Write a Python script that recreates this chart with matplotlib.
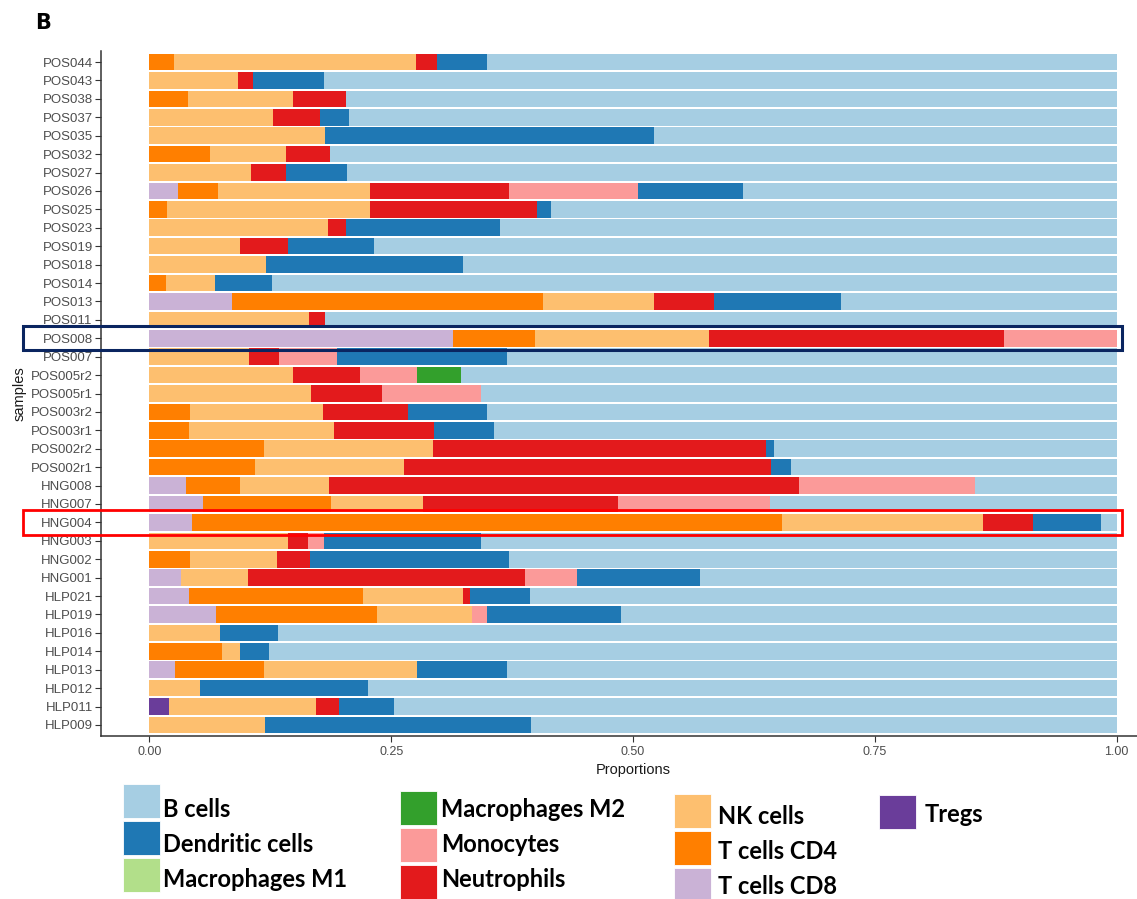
import numpy as np
import matplotlib.pyplot as plt
from matplotlib.patches import Rectangle
from matplotlib.transforms import blended_transform_factory

# samples, top to bottom as in the figure
samples = ["POS044", "POS043", "POS038", "POS037", "POS035", "POS032", "POS027", "POS026",
           "POS025", "POS023", "POS019", "POS018", "POS014", "POS013", "POS011", "POS008",
           "POS007", "POS005r2", "POS005r1", "POS003r2", "POS003r1", "POS002r2", "POS002r1",
           "HNG008", "HNG007", "HNG004", "HNG003", "HNG002", "HNG001",
           "HLP021", "HLP019", "HLP016", "HLP014", "HLP013", "HLP012", "HLP011", "HLP009"]

# proportions per cell type (same order as samples)
tregs = [0, 0, 0, 0, 0, 0, 0, 0, 0, 0, 0, 0, 0, 0, 0, 0, 0, 0, 0, 0, 0, 0, 0,
         0, 0, 0, 0, 0, 0, 0, 0, 0, 0, 0, 0, 0.020, 0]
cd8 = [0, 0, 0, 0, 0, 0, 0, 0.030, 0, 0, 0, 0, 0, 0.085, 0, 0.314, 0, 0, 0, 0, 0, 0, 0,
       0.038, 0.055, 0.044, 0, 0, 0.033, 0.041, 0.069, 0, 0, 0.027, 0, 0, 0]
cd4 = [0.025, 0, 0.040, 0, 0, 0.063, 0, 0.041, 0.018, 0, 0, 0, 0.017, 0.322, 0, 0.085, 0, 0, 0,
       0.042, 0.041, 0.118, 0.109, 0.056, 0.133, 0.610, 0, 0.042, 0, 0.180, 0.166, 0, 0.075,
       0.091, 0, 0, 0]
nk = [0.251, 0.092, 0.108, 0.128, 0.182, 0.078, 0.105, 0.157, 0.210, 0.185, 0.094, 0.121, 0.051,
      0.115, 0.165, 0.180, 0.103, 0.149, 0.167, 0.138, 0.150, 0.175, 0.154, 0.092, 0.095, 0.208,
      0.143, 0.090, 0.069, 0.103, 0.099, 0.073, 0.019, 0.159, 0.052, 0.152, 0.120]
neut = [0.021, 0.015, 0.055, 0.048, 0, 0.046, 0.036, 0.144, 0.173, 0.018, 0.049, 0, 0, 0.062,
        0.017, 0.305, 0.031, 0.069, 0.073, 0.087, 0.103, 0.345, 0.380, 0.486, 0.202, 0.052,
        0.021, 0.034, 0.286, 0.007, 0, 0, 0, 0, 0, 0.024, 0]
mono = [0, 0, 0, 0, 0, 0, 0, 0.133, 0, 0, 0, 0, 0, 0, 0, 0.116, 0.060, 0.059, 0.103, 0, 0, 0, 0,
        0.182, 0.157, 0, 0.017, 0, 0.054, 0, 0.015, 0, 0, 0, 0, 0, 0]
m2 = [0, 0, 0, 0, 0, 0, 0, 0, 0, 0, 0, 0, 0, 0, 0, 0, 0, 0.045, 0, 0, 0, 0, 0,
      0, 0, 0, 0, 0, 0, 0, 0, 0, 0, 0, 0, 0, 0]
m1 = [0] * 37
dc = [0.052, 0.074, 0, 0.030, 0.340, 0, 0.063, 0.109, 0.014, 0.160, 0.089, 0.203, 0.059, 0.131,
      0, 0, 0.176, 0, 0, 0.082, 0.062, 0.008, 0.020, 0, 0, 0.070, 0.162, 0.206, 0.127, 0.062,
      0.139, 0.060, 0.030, 0.093, 0.174, 0.057, 0.275]
bcells = [0.651, 0.819, 0.797, 0.794, 0.478, 0.813, 0.796, 0.386, 0.585, 0.637, 0.768, 0.676,
          0.873, 0.285, 0.818, 0, 0.630, 0.678, 0.657, 0.651, 0.644, 0.354, 0.337, 0.146, 0.358,
          0.016, 0.657, 0.628, 0.431, 0.607, 0.512, 0.867, 0.876, 0.630, 0.774, 0.747, 0.605]

legend_labels = ["B cells", "Dendritic cells", "Macrophages M1", "Macrophages M2", "Monocytes",
                 "Neutrophils", "NK cells", "T cells CD4", "T cells CD8", "Tregs"]
colors = ["#A6CEE3", "#1F78B4", "#B2DF8A", "#33A02C", "#FB9A99",
          "#E31A1C", "#FDBF6F", "#FF7F00", "#CAB2D6", "#6A3D9A"]
series = [bcells, dc, m1, m2, mono, neut, nk, cd4, cd8, tregs]

W, H = 1137, 899
fig = plt.figure(figsize=(W / 100, H / 100), dpi=100)
ax = fig.add_axes([101 / W, 1 - 736 / H, (1165 - 101) / W, (736 - 51) / H])

n = len(samples)
ypos = np.arange(n)[::-1]

# stack from Tregs (left) to B cells (right)
left = np.zeros(n)
for vals, col in zip(series[::-1], colors[::-1]):
    vals = np.array(vals)
    ax.barh(ypos, vals, left=left, height=0.9, color=col, edgecolor='none')
    left += vals

ax.set_xlim(-0.05, 1.05)
ax.set_ylim(-0.6, n - 0.4)
ax.set_xticks([0, 0.25, 0.5, 0.75, 1.0])
ax.set_xticklabels(["0.00", "0.25", "0.50", "0.75", "1.00"])
ax.set_yticks(ypos)
ax.set_yticklabels(samples)
ax.tick_params(axis='y', labelsize=9.5, labelcolor='#4D4D4D', color='#333333', length=4, pad=2)
ax.tick_params(axis='x', labelsize=9, labelcolor='#4D4D4D', color='#333333', length=4, pad=3)
for lab in ax.get_yticklabels() + ax.get_xticklabels():
    lab.set_family('Liberation Sans')
for s in ['top', 'right']:
    ax.spines[s].set_visible(False)
for s in ['left', 'bottom']:
    ax.spines[s].set_color('#333333')
    ax.spines[s].set_linewidth(1.1)
ax.set_xlabel("Proportions", fontsize=10.5, family='Liberation Sans', color='#1A1A1A', labelpad=4)
ax.set_ylabel("samples", fontsize=10.5, family='Liberation Sans', color='#1A1A1A', labelpad=3)

# highlight boxes
tr = blended_transform_factory(fig.transFigure, ax.transData)
for name, ec, lw in [("POS008", "#0A2560", 2.2), ("HNG004", "#FF0000", 2.0)]:
    yc = ypos[samples.index(name)]
    ax.add_patch(Rectangle((23 / W, yc - 0.66), (1122 - 23) / W, 1.32, transform=tr,
                           fill=False, edgecolor=ec, linewidth=lw, clip_on=False, zorder=5))

fig.text(35 / W, 1 - 23 / H, "B", fontsize=15, fontweight='bold', va='center', ha='left')

# legend, pasted below the plot in 4 columns (pixel layout of the original)
# (patch x, first patch top, text x, first baseline, item indices)
legend_cols = [(123, 784, 163, 817, [0, 1, 2]),
               (400, 791, 441, 817, [3, 4, 5]),
               (674, 794, 718, 824, [6, 7, 8]),
               (879, 795, 925, 822, [9])]
for px, ptop, tx, tbase, items in legend_cols:
    for k, idx in enumerate(items):
        top = ptop + 37 * k
        fig.add_artist(Rectangle((px / W, 1 - (top + 34) / H), 37 / W, 34 / H,
                                 transform=fig.transFigure, facecolor=colors[idx],
                                 edgecolor='white', linewidth=0.6))
        fig.text(tx / W, 1 - (tbase + 35 * k) / H, legend_labels[idx], fontsize=17,
                 family='Lato', fontweight='bold', va='baseline', ha='left')

fig.savefig("out.png", dpi=100)
